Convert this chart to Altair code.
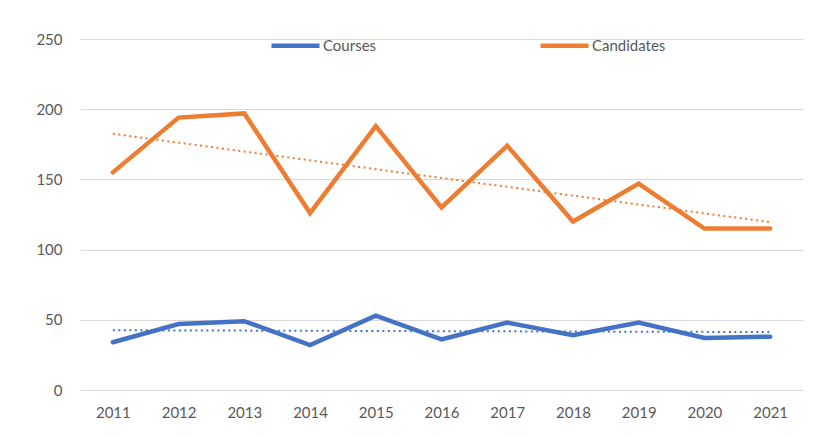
import altair as alt
import pandas as pd

years = [2011, 2012, 2013, 2014, 2015, 2016, 2017, 2018, 2019, 2020, 2021]
courses = [34, 47, 49, 32, 53, 36, 48, 39, 48, 37, 38]
candidates = [155, 194, 197, 126, 188, 130, 174, 120, 147, 115, 115]
series_names = ["Courses", "Candidates"]
series_colors = ["#4472C4", "#ED7D31"]
y_ticks = [0, 50, 100, 150, 200, 250]

rows = []
for name, vals in zip(series_names, [courses, candidates]):
    for yr, v in zip(years, vals):
        rows.append({"year": yr, "value": v, "series": name})
df = pd.DataFrame(rows)

FONT = "Lato"
TXT = "#595959"

x_axis = alt.Axis(values=years, format="d", title=None, grid=False,
                  domain=False, ticks=False, labelPadding=15,
                  labelFontSize=15, labelColor=TXT, labelFont=FONT)
x_enc = alt.X("year:Q",
              scale=alt.Scale(domain=[2010.5, 2021.5], nice=False, zero=False),
              axis=x_axis)
y_enc = alt.Y("value:Q",
              scale=alt.Scale(domain=[0, 250], nice=False),
              axis=alt.Axis(values=y_ticks, title=None, grid=True, gridColor="#d9d9d9",
                            gridWidth=1, domain=False, ticks=False, labelPadding=18,
                            labelFontSize=15, labelColor=TXT, labelFont=FONT))
color_enc = alt.Color("series:N",
                      scale=alt.Scale(domain=series_names, range=series_colors),
                      legend=alt.Legend(title=None, orient="none", legendX=189, legendY=-20,
                                        direction="horizontal", columns=2,
                                        symbolType="stroke", symbolSize=2304,
                                        symbolStrokeWidth=4.5, labelOffset=1,
                                        columnPadding=154, labelFontSize=15,
                                        labelColor=TXT, labelFont=FONT))

lines = alt.Chart(df).mark_line(strokeWidth=4.5, strokeCap="round", strokeJoin="miter").encode(
    x=x_enc, y=y_enc, color=color_enc,
    order=alt.Order("year:Q"))

trend = alt.Chart(df).transform_regression(
    "year", "value", groupby=["series"], method="linear"
).mark_line(strokeWidth=2, strokeDash=[2, 3.5]).encode(
    x=alt.X("year:Q", axis=x_axis), y=alt.Y("value:Q"), color=alt.Color("series:N", legend=None))

chart = alt.layer(lines, trend).properties(
    width=723, height=351,
    background="white",
    autosize=alt.AutoSizeParams(type="none"),
    padding={"left": 72, "top": 31, "right": 24, "bottom": 38},
).configure_view(stroke=None, strokeWidth=0)

chart.save("out.html", embed_options={"renderer": "svg", "actions": False})
